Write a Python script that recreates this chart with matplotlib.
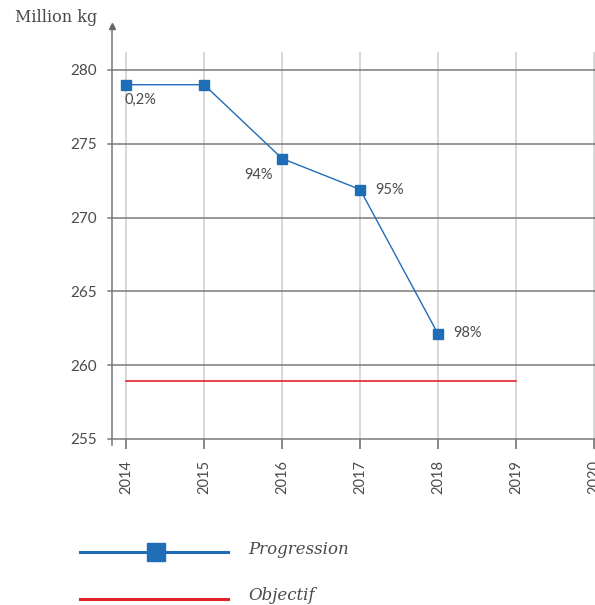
import matplotlib
matplotlib.use("Agg")
import matplotlib.pyplot as plt
from matplotlib.lines import Line2D

years = [2014, 2015, 2016, 2017, 2018]
values = [279.0, 279.0, 274.0, 271.9, 262.1]
pct_labels = ["0,2%", "", "94%", "95%", "98%"]
target_years = [2014, 2019]
target_values = [258.9, 258.9]
xticks = [2014, 2015, 2016, 2017, 2018, 2019, 2020]
yticks = [255, 260, 265, 270, 275, 280]

BLUE = "#1f6db7"
RED = "#e3232b"
TXT = "#4a4a4a"
HGRID = "#7a7a7a"
VGRID = "#d4d4d4"
NUMFONT = "Lato"

W, H = 595, 605
fig = plt.figure(figsize=(W / 100, H / 100), dpi=100)
ax = fig.add_axes([112 / W, 1 - 439 / H, 1 - 112 / W, (439 - 18) / H])
ax.set_xlim(2013.82, 2020.01)
ax.set_ylim(255, 283.52)
for s in ["top", "right", "bottom", "left"]:
    ax.spines[s].set_visible(False)

# vertical grid
ax.vlines(xticks, 255, 281.2, colors=VGRID, lw=1.3, zorder=1)
# horizontal grid lines (extend slightly left of axis)
for yv in yticks:
    ax.plot([2013.77, 2020.01], [yv, yv], color=HGRID, lw=1.1, clip_on=False, zorder=2)
# y axis with arrow
ax.plot([2013.82, 2013.82], [254.6, 283.0], color="#777777", lw=1.1, clip_on=False, zorder=3)
ax.plot([2013.82], [283.0], marker="^", color="#666666", ms=5, clip_on=False, zorder=3)

ax.set_xticks(xticks)
ax.set_xticklabels([str(x) for x in xticks], rotation=90, fontsize=10.5, color=TXT,
                   family=NUMFONT)
ax.tick_params(axis="x", length=7, width=1.1, color="#666666", pad=8)
ax.set_yticks(yticks)
ax.set_yticklabels([str(y) for y in yticks], fontsize=11, color=TXT, family=NUMFONT)
ax.tick_params(axis="y", length=0, pad=11)

# target
ax.plot(target_years, target_values, color=RED, lw=1.2, zorder=4)
# progression
ax.plot(years, values, color=BLUE, lw=1.0, marker="s", ms=7, mfc=BLUE, mec=BLUE, zorder=5)

offsets = [(-1, -11, "left"), None, (-7, -12, "right"), (11, 0, "left"), (11, 0.5, "left")]
for x, y, t, o in zip(years, values, pct_labels, offsets):
    if not t:
        continue
    ax.annotate(t, (x, y), xytext=(o[0], o[1]), textcoords="offset points",
                ha=o[2], va="center", fontsize=10.5, color=TXT, family=NUMFONT)

fig.text(15 / W, 1 - 18 / H, "Million kg", fontsize=11.5, color=TXT, family="DejaVu Serif",
         ha="left", va="center")

# legend
fig.add_artist(Line2D([80 / W, 228 / W], [1 - 552 / H, 1 - 552 / H], color=BLUE, lw=2.2))
fig.add_artist(Line2D([156 / W], [1 - 552 / H], marker="s", ms=13, color=BLUE, lw=0))
fig.add_artist(Line2D([80 / W, 228 / W], [1 - 599 / H, 1 - 599 / H], color=RED, lw=2.2))
fig.text(248 / W, 1 - 549 / H, "Progression", fontsize=12, style="italic", color=TXT,
         family="DejaVu Serif", ha="left", va="center")
fig.text(248 / W, 1 - 596 / H, "Objectif", fontsize=12, style="italic", color=TXT,
         family="DejaVu Serif", ha="left", va="center")

fig.savefig("out.png", dpi=100)
